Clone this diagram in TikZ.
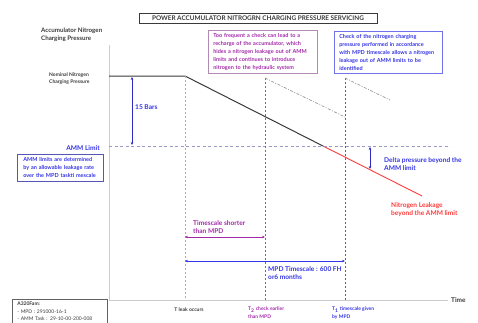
\documentclass[tikz,border=0pt]{standalone}
\usepackage{fontspec}
\setmainfont{Lato}
\usetikzlibrary{arrows.meta, positioning}
\definecolor{txtpurple}{HTML}{A22AA8}
\definecolor{txtblue}{HTML}{3434E4}
\definecolor{leakred}{HTML}{FF3B3B}
\definecolor{darkline}{HTML}{3A3A3A}
\definecolor{ammdash}{HTML}{9A9AC8}

\begin{document}
\begin{tikzpicture}[x=1pt, y=-1pt,
      lbl/.style={inner sep=0pt, align=left, font=\fontsize{6.6}{7.9}\selectfont\bfseries},
      small/.style={inner sep=0pt, align=left, font=\fontsize{5}{7.4}\selectfont\bfseries},
      box/.style={rectangle, draw, line width=0.6pt, align=left,
                  inner xsep=5pt, inner ysep=3.5pt,
                  font=\fontsize{5.5}{7.8}\selectfont\bfseries},
      arr/.style={{Stealth[length=3pt,width=2.6pt]}-{Stealth[length=3pt,width=2.6pt]}, line width=0.6pt},
      vdash/.style={line width=0.7pt, dash pattern=on 2pt off 2pt},
      saw/.style={line width=0.7pt, gray!80, dash pattern=on 3pt off 1.5pt on 1pt off 1.5pt},
      axis/.style={line width=0.5pt, gray!40}
    ]
    \useasboundingbox (0,0) rectangle (478,322);
    \clip (0,0) rectangle (478,322);

    % title
    \node[draw=darkline, line width=0.8pt, minimum width=238pt, minimum height=10pt, inner sep=0pt,
          text=darkline, font=\fontsize{6.4}{7}\selectfont\bfseries] (title) at (258,18)
          {POWER ACCUMULATOR NITROGRN CHARGING PRESSURE SERVICING};

    % axes
    \coordinate (ytop) at (109,45);
    \coordinate (orig) at (109,300);
    \coordinate (xend) at (448,300);
    \draw[axis] (ytop) -- (orig) -- (xend);
    \node[lbl, text=darkline, anchor=west, font=\fontsize{6.5}{7}\selectfont\bfseries] (time) at (451,300) {Time};
    \node[lbl, text=darkline, anchor=north west, font=\fontsize{6.2}{8}\selectfont\bfseries] (ylbl) at (41,28)
          {Accumulator Nitrogen\\Charging Pressure};
    \node[small, text=darkline, anchor=west] (nomlbl) at (49,78.5)
          {Nominal Nitrogen\\Charging Pressure};

    % pressure curve
    \coordinate (nomstart) at (109,76);
    \coordinate (tleak) at (185,76);
    \coordinate (cross) at (323,146);
    \coordinate (leakend) at (422,196);
    \draw[line width=1pt, darkline] (nomstart) -- (tleak) -- (cross);
    \draw[line width=0.9pt, leakred] (cross) -- (leakend);

    % AMM limit
    \coordinate (ammstart) at (109,146);
    \coordinate (ammend) at (450,146);
    \draw[line width=0.7pt, ammdash, dash pattern=on 3pt off 2.5pt] (ammstart) -- (ammend);
    \node[lbl, text=txtblue, anchor=east, font=\fontsize{6.6}{7}\selectfont\bfseries] (ammlbl) at (100,148.5) {AMM Limit};
    \node[box, draw=txtblue!55!gray, text=txtblue, anchor=north west, text width=74pt, inner xsep=6pt] (ammbox) at (17,154)
          {AMM limits are determined\\by an allowable leakage rate\\over the MPD taskti mescale};

    % time marks
    \coordinate (t2top) at (265,78);
    \coordinate (t1top) at (345,78);
    \coordinate (tleakbot) at (185,300);
    \coordinate (t2bot) at (265,300);
    \coordinate (t1bot) at (345,300);
    \draw[vdash, gray!65] (tleak) -- (tleakbot);
    \draw[vdash, txtpurple!40!gray] (t2top) -- (t2bot);
    \draw[vdash, txtblue!85] (t1top) -- (t1bot);

    % recharges
    \coordinate (saw1) at (345,117);
    \coordinate (saw2) at (390,100);
    \draw[saw] (t2top) -- (saw1);
    \draw[saw] (t1top) -- (saw2);

    % 15 bars
    \coordinate (barstop) at (132,77);
    \coordinate (barsbot) at (132,145);
    \draw[arr, txtblue!85!black] (barstop) -- (barsbot);
    \node[lbl, text=txtblue, anchor=west] (barslbl) at (135,107) {15 Bars};

    % delta pressure
    \coordinate (deltatop) at (370,147);
    \coordinate (deltabot) at (370,169);
    \draw[arr, txtblue!85!black] (deltatop) -- (deltabot);
    \node[lbl, text=txtblue, anchor=west] (deltalbl) at (384,164) {Delta pressure beyond the\\AMM limit};
    \node[lbl, text=leakred, anchor=west] (leaklbl) at (391,210) {Nitrogen Leakage\\beyond the AMM limit};

    % comment boxes
    \node[box, draw=txtpurple!45!gray!70, text=txtpurple, anchor=north west, text width=99pt] (freqbox) at (208,30)
          {Too frequent a check can lead to a\\recharge of the accumulator, which\\hides a nitrogen leakage out of AMM\\limits and continues to introduce\\nitrogen to the hydraulic system};
    \node[box, draw=txtblue!70, text=txtblue, anchor=north west, text width=98pt] (mpdbox) at (334,31)
          {Check of the nitrogen charging\\pressure performed in accordance\\with MPD timescale allows a nitrogen\\leakage out of AMM limits to be\\identified};

    % timescales
    \coordinate (shortl) at (185,237);
    \coordinate (shortr) at (265,237);
    \draw[arr, txtpurple] (shortl) -- (shortr);
    \node[lbl, text=txtpurple, anchor=west] (shortlbl) at (193,227) {Timescale shorter\\than MPD};
    \coordinate (mpdl) at (185,261);
    \coordinate (mpdr) at (345,261);
    \draw[arr, txtblue] (mpdl) -- (mpdr);
    \node[lbl, text=txtblue, anchor=west] (mpdlbl) at (268,273) {MPD Timescale : 600 FH\\or6 months};

    % labels under the time axis
    \node[small, text=darkline] (tleaklbl) at (189,309.5) {T leak occurs};
    \node[small, text=txtpurple, anchor=west] (t2lbl) at (248,312.5) {T\textsubscript{2} check earlier\\than MPD};
    \node[small, text=txtblue, anchor=west] (t1lbl) at (332,313) {T\textsubscript{1} timescale given\\by MPD};

    % aircraft references
    \node[box, draw=darkline!80, text=darkline, anchor=north west, text width=85pt, inner ysep=3pt,
          font=\fontsize{5}{7.5}\selectfont] (a320box) at (12,299)
          {\textbf{A320Fam:}\\ - MPD : 291000-16-1\\ - AMM Task : 29-10-00-200-008};
  \end{tikzpicture}
\end{document}
